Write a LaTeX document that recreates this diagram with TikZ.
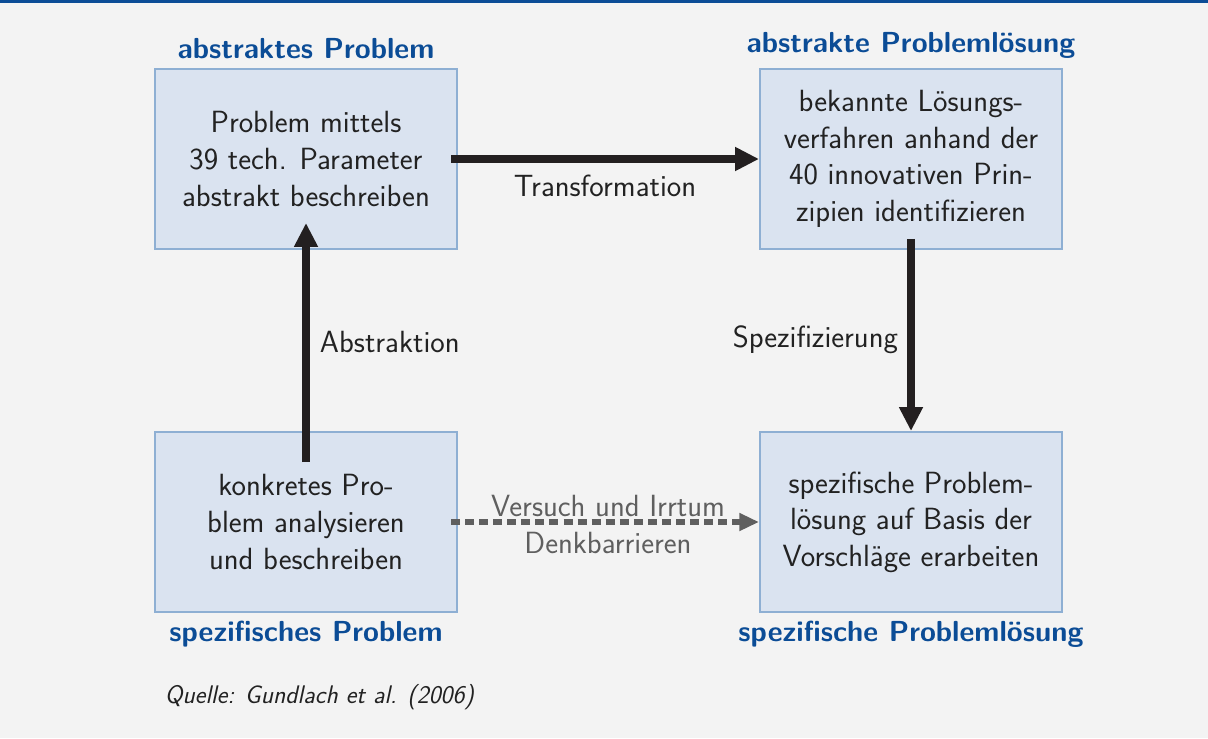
\documentclass[tikz,border=0pt]{standalone}
\usetikzlibrary{arrows.meta,calc}
\renewcommand{\familydefault}{\sfdefault}
\definecolor{bgcol}{HTML}{F3F3F3}
\definecolor{boxfill}{HTML}{DAE3F0}
\definecolor{boxline}{HTML}{8EAFD3}
\definecolor{titleblue}{HTML}{0B4C96}
\definecolor{arrowdark}{HTML}{231F20}
\definecolor{graytext}{HTML}{5F5F5F}
\definecolor{textdark}{HTML}{222222}
\tikzset{
  stagebox/.style={draw=boxline, line width=1.4pt, fill=boxfill,
    minimum width=302*0.7112pt, minimum height=180*0.7112pt,
    align=center, text=textdark, inner sep=0pt,
    font=\fontsize{21.8}{26}\selectfont},
  boxtitle/.style={text=titleblue, font=\fontsize{20.6}{24}\selectfont\bfseries},
  flowlabel/.style={text=textdark, font=\fontsize{21.8}{25}\selectfont},
  mainarrow/.style={draw=arrowdark, line width=6pt,
    -{Triangle[length=17pt,width=16pt]}},
  trialarrow/.style={draw=graytext, line width=3.6pt, dash pattern=on 6.4pt off 3.6pt,
    -{Triangle[length=14pt,width=12pt]}},
  triallabel/.style={text=graytext, font=\fontsize{21.8}{25}\selectfont},
}
\begin{document}
\begin{tikzpicture}[x=0.025cm, y=-0.025cm]
  % canvas and top rule
  \fill[bgcol] (0,0) rectangle (1208,738);
  \useasboundingbox (0,0) rectangle (1208,738);
  \fill[titleblue] (0,0) rectangle (1208,2.5);

  % the four stages
  \node[stagebox] (absprob) at (306,159) {Problem mittels\\39 tech. Parameter\\abstrakt beschreiben};
  \node[stagebox] (abssol)  at (911,159) {bekannte Lösungs-\\verfahren anhand der\\40 innovativen Prin-\\zipien identifizieren};
  \node[stagebox] (specprob) at (306,522) {konkretes Pro-\\blem analysieren\\und beschreiben};
  \node[stagebox] (specsol)  at (911,522) {spezifische Problem-\\lösung auf Basis der\\Vorschläge erarbeiten};

  % stage titles
  \node[boxtitle] (t1) at (306,49) {abstraktes Problem};
  \node[boxtitle] (t2) at (911,45) {abstrakte Problemlösung};
  \node[boxtitle] (t3) at (306,634) {spezifisches Problem};
  \node[boxtitle] (t4) at (911,634) {spezifische Problemlösung};

  % transitions
  \draw[mainarrow] ($(absprob.east)+(-7,0)$) -- (abssol.west)
    node[flowlabel, pos=0.5, below=5pt] (ltrans) {Transformation};
  \draw[mainarrow] ($(specprob.north)+(0,31)$) -- ($(absprob.south)+(0,-27)$);
  \node[flowlabel, anchor=west] (labs) at (315,342) {Abstraktion};
  \draw[mainarrow] ($(abssol.south)+(0,-11)$) -- (specsol.north);
  \node[flowlabel, anchor=east] (lspec) at (903,340) {Spezifizierung};

  \draw[trialarrow] ($(specprob.east)+(-7,0)$) -- (specsol.west);
  \node[triallabel] (ltrial) at (608,506) {Versuch und Irrtum};
  \node[triallabel] (lbarr) at (608,543) {Denkbarrieren};

  % source note
  \node[anchor=west, text=textdark, font=\fontsize{18.1}{21}\selectfont\itshape] (src) at (160,697) {Quelle: Gundlach et al. (2006)};
\end{tikzpicture}
\end{document}
